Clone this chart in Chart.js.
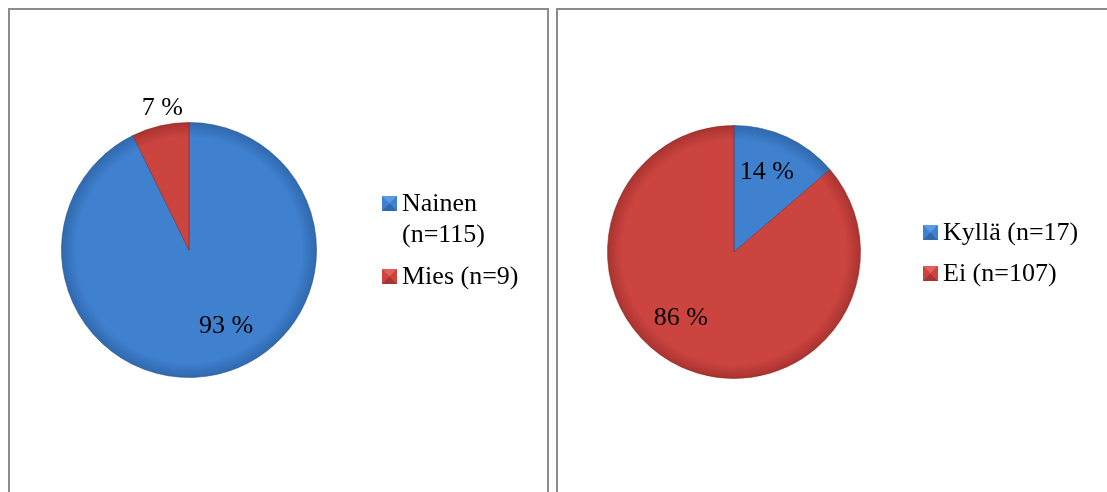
<!DOCTYPE html>
<html>
<head>
<meta charset="utf-8">
<script src="https://cdn.jsdelivr.net/npm/chart.js@4.4.0/dist/chart.umd.min.js"></script>
<style>
    html, body { margin: 0; padding: 0; background: #fff; overflow: hidden; }
    body { width: 1107px; height: 492px; position: relative; }
    .box { position: absolute; border: 2px solid #8c8c8c; background: #fff; }
    #boxLeft { left: 8px; top: 8px; width: 537px; height: 500px; }
    #boxRight { left: 556px; top: 8px; width: 560px; height: 500px; }
    canvas { position: absolute; left: 0; top: 0; }
</style>
</head>
<body>
<div class="box" id="boxLeft"><div style="position:absolute;left:0;top:0;width:537px;height:482px;"><canvas id="chartLeft"></canvas></div></div>
<div class="box" id="boxRight"><div style="position:absolute;left:0;top:0;width:549px;height:482px;"><canvas id="chartRight"></canvas></div></div>
<script>
// gender
const genderLabels = ['Nainen (n=115)', 'Mies (n=9)'];
const genderCounts = [115, 9];
// yes / no
const answerLabels = ['Kyllä (n=17)', 'Ei (n=107)'];
const answerCounts = [17, 107];

const sliceColors = [
    { base: '#3f80cf', light: '#5b9ae4', dark: '#2f68ad' },
    { base: '#cc4440', light: '#e0605b', dark: '#a8332f' }
];

const FONT = '"Liberation Serif", "Times New Roman", serif';

function sliceFill(ctx) {
    const c = sliceColors[ctx.dataIndex] || sliceColors[0];
    const area = ctx.chart.chartArea;
    if (!area) return c.base;
    const cx = (area.left + area.right) / 2;
    const cy = (area.top + area.bottom) / 2;
    const r = Math.min(area.right - area.left, area.bottom - area.top) / 2;
    const g = ctx.chart.ctx.createRadialGradient(cx, cy, 0, cx, cy, r);
    g.addColorStop(0, c.base);
    g.addColorStop(0.88, c.base);
    g.addColorStop(1, c.dark);
    return g;
}

function sliceBorder(ctx) {
    return ctx.dataIndex === 0 ? 'rgba(40,80,140,0.6)' : 'rgba(140,40,35,0.6)';
}

// percent labels placed relative to the pie centre, in units of radius
const percentLabels = {
    id: 'percentLabels',
    afterDatasetsDraw(chart, args, opts) {
        const ctx = chart.ctx;
        const meta = chart.getDatasetMeta(0);
        const data = chart.data.datasets[0].data;
        const total = data.reduce((a, b) => a + b, 0);
        ctx.save();
        ctx.font = '26px ' + FONT;
        ctx.fillStyle = '#000';
        ctx.textAlign = 'center';
        ctx.textBaseline = 'middle';
        meta.data.forEach((arc, i) => {
            const pct = Math.round(data[i] / total * 100);
            const off = opts.offsets[i];
            ctx.fillText(pct + ' %', arc.x + off[0] * arc.outerRadius, arc.y + off[1] * arc.outerRadius);
        });
        ctx.restore();
    }
};

function drawMarker(ctx, x, y, s, c) {
    ctx.fillStyle = c.base;
    ctx.fillRect(x, y, s, s);
    const m = s / 2;
    const tri = (pts, col) => {
        ctx.fillStyle = col;
        ctx.beginPath();
        ctx.moveTo(pts[0], pts[1]);
        ctx.lineTo(pts[2], pts[3]);
        ctx.lineTo(pts[4], pts[5]);
        ctx.closePath();
        ctx.fill();
    };
    tri([x, y, x + s, y, x + m, y + m], c.light);
    tri([x, y + s, x + s, y + s, x + m, y + m], c.dark);
    tri([x + s, y, x + s, y + s, x + m, y + m], c.base);
}

// legend drawn to the right of the pie, text wraps on words
const sideLegend = {
    id: 'sideLegend',
    afterDraw(chart, args, opts) {
        const ctx = chart.ctx;
        ctx.save();
        ctx.font = '26px ' + FONT;
        ctx.textBaseline = 'middle';
        ctx.textAlign = 'left';
        let y = opts.y;
        chart.data.labels.forEach((label, i) => {
            const words = label.split(' ');
            const lines = [];
            let line = '';
            words.forEach(w => {
                const test = line ? line + ' ' + w : w;
                if (line && ctx.measureText(test).width > opts.maxWidth) {
                    lines.push(line);
                    line = w;
                } else {
                    line = test;
                }
            });
            lines.push(line);
            drawMarker(ctx, opts.x, y - 7, 15, sliceColors[i]);
            ctx.fillStyle = '#000';
            lines.forEach((l, k) => ctx.fillText(l, opts.x + 20, y + 1 + k * opts.lineHeight));
            y += (lines.length - 1) * opts.lineHeight + opts.itemGap;
        });
        ctx.restore();
    }
};

function makePie(canvasId, labels, counts, padding, labelOffsets, legendOpts) {
    return new Chart(document.getElementById(canvasId), {
        type: 'pie',
        data: {
            labels: labels,
            datasets: [{
                data: counts,
                backgroundColor: sliceFill,
                borderColor: sliceBorder,
                borderWidth: 1
            }]
        },
        options: {
            responsive: true,
            maintainAspectRatio: false,
            animation: false,
            layout: { padding: padding },
            plugins: {
                legend: { display: false },
                tooltip: { enabled: false },
                percentLabels: { offsets: labelOffsets },
                sideLegend: legendOpts
            }
        },
        plugins: [percentLabels, sideLegend]
    });
}

makePie('chartLeft', genderLabels, genderCounts,
    { left: 51, right: 230, top: 112, bottom: 114 },
    [[0.29, 0.60], [-0.21, -1.11]],
    { x: 372, y: 193, maxWidth: 140, lineHeight: 31, itemGap: 42 });

makePie('chartRight', answerLabels, answerCounts,
    { left: 49, right: 246, top: 115, bottom: 113 },
    [[0.26, -0.63], [-0.42, 0.52]],
    { x: 365, y: 222, maxWidth: 170, lineHeight: 31, itemGap: 41 });
</script>
</body>
</html>
